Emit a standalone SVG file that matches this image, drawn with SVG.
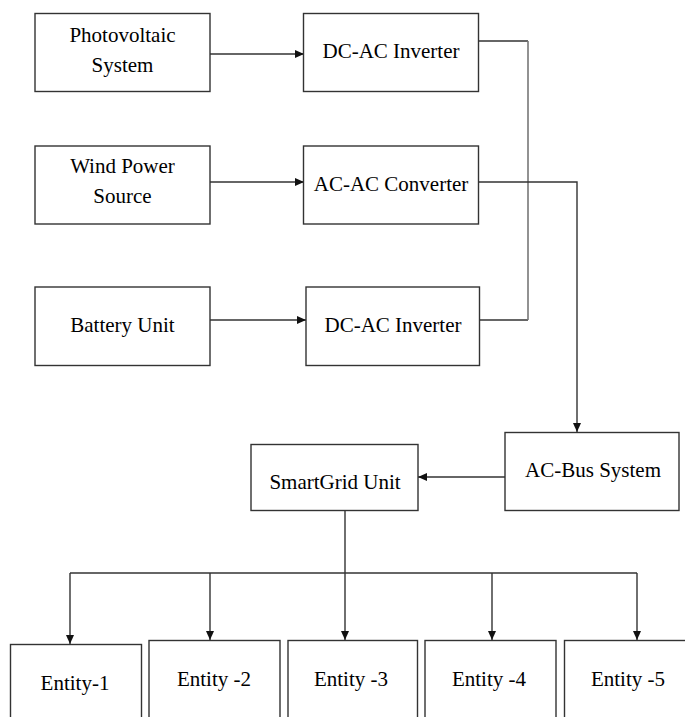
<svg xmlns="http://www.w3.org/2000/svg" width="685" height="717" viewBox="0 0 685 717">
<defs>
<style>
.box{fill:#fff;stroke:#333;stroke-width:1.4}
.lbl{font-family:'Liberation Serif','DejaVu Serif',serif;font-size:21px;fill:#000;text-anchor:middle}
.ln{fill:none;stroke:#333;stroke-width:1.4}
.gr{fill:none;stroke:#777;stroke-width:1.6}
</style>
<marker id="ah" markerUnits="userSpaceOnUse" markerWidth="9" markerHeight="8" refX="9" refY="4" orient="auto">
<path d="M0,0 L9,4 L0,8 z" fill="#111"/>
</marker>
</defs>
<rect width="685" height="717" fill="#fff"/>
<g id="connectors">
<line class="ln" x1="210" y1="54" x2="304" y2="54" marker-end="url(#ah)"/>
<line class="ln" x1="210" y1="182" x2="304" y2="182" marker-end="url(#ah)"/>
<line class="ln" x1="210" y1="320" x2="306" y2="320" marker-end="url(#ah)"/>
<polyline class="ln" points="478,41 528,41"/>
<polyline class="ln" points="479,320 528,320"/>
<line class="gr" x1="528" y1="41" x2="528" y2="320"/>
<polyline class="ln" points="478,182 577,182 577,432" marker-end="url(#ah)"/>
<line class="ln" x1="505" y1="477" x2="418" y2="477" marker-end="url(#ah)"/>
<line class="ln" x1="345" y1="511" x2="345" y2="640" marker-end="url(#ah)"/>
<line class="ln" x1="70" y1="573" x2="637" y2="573"/>
<line class="ln" x1="70" y1="573" x2="70" y2="644" marker-end="url(#ah)"/>
<line class="ln" x1="210" y1="573" x2="210" y2="640" marker-end="url(#ah)"/>
<line class="ln" x1="492" y1="573" x2="492" y2="640" marker-end="url(#ah)"/>
<line class="ln" x1="637" y1="573" x2="637" y2="640" marker-end="url(#ah)"/>
</g>
<g id="pv"><rect class="box" x="35" y="13.5" width="175" height="78"/><text class="lbl" font-family="Liberation Serif, serif" x="122.5" y="42">Photovoltaic</text><text class="lbl" x="122.5" y="72">System</text></g>
<g id="inv1"><rect class="box" x="303.5" y="13.5" width="175" height="78"/><text class="lbl" x="391" y="58">DC-AC Inverter</text></g>
<g id="wind"><rect class="box" x="35" y="146" width="175" height="78"/><text class="lbl" x="122.5" y="173">Wind Power</text><text class="lbl" x="122.5" y="203">Source</text></g>
<g id="acac"><rect class="box" x="303.5" y="146" width="175" height="78"/><text class="lbl" x="391" y="191">AC-AC Converter</text></g>
<g id="battery"><rect class="box" x="35" y="287" width="175" height="78.5"/><text class="lbl" x="122.5" y="332">Battery Unit</text></g>
<g id="inv2"><rect class="box" x="306" y="287" width="173.5" height="78.5"/><text class="lbl" x="393" y="332">DC-AC Inverter</text></g>
<g id="acbus"><rect class="box" x="505" y="432.5" width="174" height="78"/><text class="lbl" x="593" y="477">AC-Bus System</text></g>
<g id="smartgrid"><rect class="box" x="251" y="444.5" width="167" height="66"/><text class="lbl" x="335" y="489">SmartGrid Unit</text></g>
<g id="e1"><rect class="box" x="10.5" y="644.5" width="131" height="80"/><text class="lbl" x="75" y="690">Entity-1</text></g>
<g id="e2"><rect class="box" x="149" y="640.5" width="131" height="84"/><text class="lbl" x="214" y="686">Entity -2</text></g>
<g id="e3"><rect class="box" x="288" y="640.5" width="129.5" height="84"/><text class="lbl" x="351" y="686">Entity -3</text></g>
<g id="e4"><rect class="box" x="425" y="640.5" width="131" height="84"/><text class="lbl" x="489" y="686">Entity -4</text></g>
<g id="e5"><rect class="box" x="564.5" y="640.5" width="130" height="84"/><text class="lbl" x="628" y="686">Entity -5</text></g>
</svg>
